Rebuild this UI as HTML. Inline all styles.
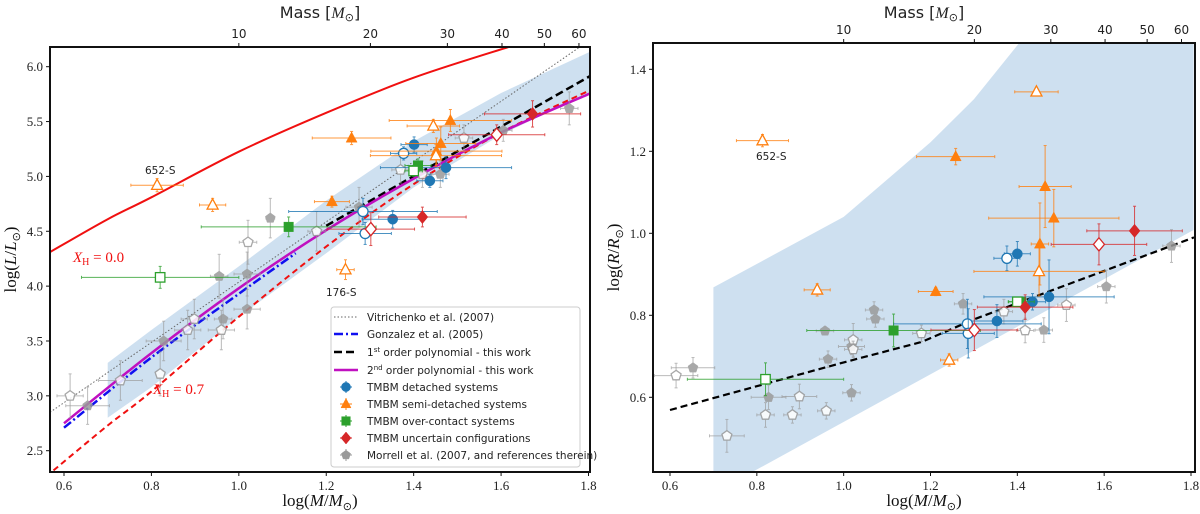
<!DOCTYPE html>
<html><head><meta charset="utf-8">
<style>
body{margin:0;background:#fff;}
svg{display:block;}
.tk{font-family:"Liberation Serif",serif;font-size:13px;fill:#222;}
.tt{font-family:"DejaVu Sans","Liberation Sans",sans-serif;font-size:12px;fill:#222;}
.lg{font-family:"DejaVu Sans","Liberation Sans",sans-serif;font-size:10.5px;fill:#222;}
.al{font-family:"Liberation Serif",serif;font-size:17px;fill:#111;}
</style></head>
<body>
<svg id="chart" width="1200" height="514" viewBox="0 0 1200 514" xmlns="http://www.w3.org/2000/svg"></svg>
<script>
// ---------- DATA (left panel: log L) ----------
const massTicks = [10, 20, 30, 40, 50, 60];
const xTicks = [0.6, 0.8, 1.0, 1.2, 1.4, 1.6, 1.8];
const lTicks = [2.5, 3.0, 3.5, 4.0, 4.5, 5.0, 5.5, 6.0];
const rTicks = [0.6, 0.8, 1.0, 1.2, 1.4];

// curves: [x, y]
const xh0Curve = [[0.568,4.31],[0.7,4.61],[0.8,4.81],[1.0,5.225],[1.2,5.58],[1.4,5.90],[1.617,6.18]];
const xh07Curve = [[0.576,2.32],[0.7,2.73],[0.8,3.04],[1.0,3.72],[1.2,4.36],[1.4,4.93],[1.6,5.40],[1.806,5.79]];
const poly2Curve = [[0.6,2.75],[0.8,3.39],[1.0,3.98],[1.2,4.51],[1.4,4.98],[1.6,5.40],[1.806,5.76]];
const poly1Line = [[1.2,4.55],[1.806,5.92]];
const gonzalezCurve = [[0.6,2.71],[0.8,3.35],[1.0,3.93],[1.13,4.30]];
const vitrichenkoLine = [[0.568,2.85],[1.78,6.18]];
const bandLower = [[0.7,2.80],[0.8,3.08],[1.0,3.72],[1.2,4.30],[1.4,4.90],[1.6,5.38],[1.806,5.77]];
const bandUpper = [[1.806,6.14],[1.6,5.76],[1.4,5.32],[1.2,4.78],[1.0,4.18],[0.8,3.60],[0.7,3.30]];

// points: [x, y, xerr, yerr]
const detL = [[1.401,5.29,0.03,0.07],[1.352,4.61,0.07,0.08],[1.437,4.96,0.03,0.06],[1.474,5.08,0.15,0.1]];
const detLo = [[1.377,5.21,0.03,0.06],[1.284,4.68,0.17,0.12],[1.289,4.48,0.06,0.1]];
const semiL = [[1.258,5.35,0.09,0.06],[1.213,4.77,0.04,0.05],[1.484,5.51,0.14,0.1],[1.462,5.30,0.08,0.15],[1.452,5.23,0.15,0.12]];
const semiLo = [[0.813,4.92,0.06,0.06],[0.940,4.74,0.03,0.06],[1.445,5.46,0.06,0.06],[1.451,5.19,0.15,0.1],[1.244,4.15,0.02,0.09]];
const ocL = [[1.114,4.54,0.2,0.09],[1.41,5.10,0.03,0.06]];
const ocLo = [[0.820,4.08,0.18,0.1],[1.40,5.05,0.02,0.05]];
const uncL = [[1.420,4.63,0.1,0.09],[1.672,5.57,0.11,0.12]];
const uncLo = [[1.302,4.52,0.1,0.15],[1.590,5.38,0.11,0.09]];
const morL = [[0.654,2.91,0.05,0.17],[0.828,3.50,0.04,0.18],[0.955,4.09,0.02,0.2],[0.964,3.70,0.02,0.18],[1.019,4.11,0.03,0.2],[1.019,3.79,0.03,0.18],[1.072,4.62,0.01,0.18],[1.275,4.72,0.03,0.18],[1.461,5.02,0.02,0.12],[1.605,5.42,0.02,0.1],[1.756,5.62,0.02,0.15]];
const morLo = [[0.614,3.00,0.03,0.2],[0.729,3.14,0.05,0.18],[0.820,3.20,0.01,0.2],[0.883,3.60,0.03,0.18],[0.898,3.70,0.03,0.18],[0.960,3.60,0.03,0.18],[1.021,4.40,0.02,0.2],[1.178,4.50,0.02,0.18],[1.370,5.06,0.02,0.12],[1.420,5.02,0.02,0.12],[1.515,5.35,0.02,0.12]];

// ---------- DATA (right panel: log R) ----------
const poly1R = [[0.6,0.569],[1.0,0.685],[1.18,0.735],[1.3,0.79],[1.807,0.99]];
const bandR = [[0.7,0.418],[0.7,0.868],[1.0,1.04],[1.2,1.222],[1.3,1.327],[1.405,1.465],[1.806,1.465],[1.806,1.008],[0.79,0.418]];
const detR = [[1.40,0.950,0.03,0.03],[1.353,0.786,0.06,0.04],[1.435,0.833,0.03,0.02],[1.473,0.845,0.15,0.09]];
const detRo = [[1.376,0.939,0.03,0.03],[1.285,0.779,0.17,0.06],[1.287,0.756,0.06,0.06]];
const orgR = [[1.258,1.187,0.09,0.02],[1.212,0.858,0.04,0.01],[1.464,1.114,0.06,0.1],[1.484,1.037,0.15,0.07],[1.452,0.974,0.02,0.1]];
const orgRo = [[0.813,1.226,0.06,0.015],[0.939,0.862,0.03,0.015],[1.444,1.345,0.05,0.01],[1.450,0.907,0.15,0.06],[1.243,0.691,0.02,0.015]];
const grnR = [[1.115,0.763,0.2,0.04],[1.409,0.833,0.03,0.01]];
const grnRo = [[0.820,0.644,0.18,0.04],[1.40,0.833,0.02,0.01]];
const redR = [[1.670,1.006,0.11,0.06],[1.418,0.820,0.11,0.03]];
const redRo = [[1.588,0.973,0.11,0.05],[1.301,0.764,0.1,0.05]];
const morR = [[0.653,0.672,0.05,0.025],[0.827,0.600,0.04,0.03],[0.957,0.762,0.02,0.01],[0.964,0.693,0.02,0.02],[1.018,0.724,0.03,0.02],[1.018,0.611,0.02,0.02],[1.070,0.813,0.02,0.02],[1.073,0.791,0.02,0.02],[1.275,0.828,0.02,0.025],[1.461,0.764,0.02,0.03],[1.605,0.870,0.02,0.04],[1.755,0.969,0.02,0.04]];
const morRo = [[0.614,0.653,0.05,0.03],[0.731,0.506,0.04,0.04],[0.820,0.557,0.02,0.03],[0.882,0.557,0.02,0.02],[0.898,0.602,0.04,0.03],[0.960,0.567,0.02,0.02],[1.022,0.740,0.02,0.04],[1.022,0.717,0.02,0.02],[1.179,0.756,0.02,0.02],[1.369,0.809,0.02,0.03],[1.418,0.763,0.02,0.03],[1.513,0.825,0.02,0.04]];

// ---------- RENDER ----------
const NS = 'http://www.w3.org/2000/svg';
const svg = document.getElementById('chart');
function mk(tag, attrs, parent){
  const e = document.createElementNS(NS, tag);
  for (const k in attrs) e.setAttribute(k, attrs[k]);
  (parent||svg).appendChild(e);
  return e;
}
const C = {blue:'#1f77b4', orange:'#ff7f0e', green:'#2ca02c', red:'#d62728', grey:'#9a9a9a'};

function panel(P){
  const g = mk('g', {});
  
  
  const sx = v => P.x0 + (v - P.xa) * (P.x1 - P.x0) / (P.xb - P.xa);
  const sy = v => P.y0 + (v - P.ya) * (P.y1 - P.y0) / (P.yb - P.ya);
  const clipId = 'clip-' + P.name;
  const cp = mk('clipPath', {id: clipId}, g);
  mk('rect', {x:P.L, y:P.T, width:P.R-P.L, height:P.B-P.T}, cp);
  const plot = mk('g', {'clip-path':'url(#'+clipId+')'}, g);
  P.sx = sx; P.sy = sy; P.plot = plot; P.g = g;
  return P;
}
function smoothD(pp){
  let d = 'M' + pp[0][0].toFixed(1) + ' ' + pp[0][1].toFixed(1);
  for (let i=0;i<pp.length-1;i++){
    const p0 = pp[Math.max(i-1,0)], p1 = pp[i], p2 = pp[i+1], p3 = pp[Math.min(i+2,pp.length-1)];
    const c1 = [p1[0]+(p2[0]-p0[0])/6, p1[1]+(p2[1]-p0[1])/6];
    const c2 = [p2[0]-(p3[0]-p1[0])/6, p2[1]-(p3[1]-p1[1])/6];
    d += ` C${c1[0].toFixed(1)} ${c1[1].toFixed(1)} ${c2[0].toFixed(1)} ${c2[1].toFixed(1)} ${p2[0].toFixed(1)} ${p2[1].toFixed(1)}`;
  }
  return d;
}
function path(P, pts, style, name, smooth){
  const pp = pts.map(p => [P.sx(p[0]), P.sy(p[1])]);
  const d = smooth ? smoothD(pp) : pp.map((p,i)=>(i?'L':'M')+p[0].toFixed(1)+' '+p[1].toFixed(1)).join(' ');
  const e = mk('path', Object.assign({d:d, fill:'none'}, style), P.plot);
  
  
  return e;
}
function marker(parent, shape, cx, cy, color, open, s){
  s = s || 1.1;
  const fill = open ? '#fff' : color;
  const st = {fill: fill, stroke: color, 'stroke-width': open ? 1.3 : 0.5};
  let e;
  if (shape === 'o') e = mk('circle', Object.assign({cx:cx, cy:cy, r:4.6*s}, st), parent);
  else if (shape === '^') e = mk('polygon', Object.assign({points:`${cx},${cy-5.5*s} ${cx+5*s},${cy+3.8*s} ${cx-5*s},${cy+3.8*s}`}, st), parent);
  else if (shape === 's') e = mk('rect', Object.assign({x:cx-4.3*s, y:cy-4.3*s, width:8.6*s, height:8.6*s}, st), parent);
  else if (shape === 'D') e = mk('polygon', Object.assign({points:`${cx},${cy-6*s} ${cx+5*s},${cy} ${cx},${cy+6*s} ${cx-5*s},${cy}`}, st), parent);
  else {
    let p = [];
    for (let k=0;k<5;k++){ const a = -Math.PI/2 + k*2*Math.PI/5; p.push((cx+4.8*s*Math.cos(a)).toFixed(1)+','+(cy+4.8*s*Math.sin(a)).toFixed(1)); }
    e = mk('polygon', Object.assign({points:p.join(' ')}, st), parent);
  }
  return e;
}
function points(P, pts, shape, color, open, name, alpha){
  const grp = mk('g', {opacity: alpha||1}, P.plot);
  
  
  pts.forEach(p => {
    const cx = P.sx(p[0]), cy = P.sy(p[1]);
    const xl = P.sx(p[0]-p[2]), xr = P.sx(p[0]+p[2]);
    const yt = P.sy(p[1]+p[3]), yb = P.sy(p[1]-p[3]);
    const eb = mk('g', {stroke:color, 'stroke-width':1, opacity:0.8}, grp);
    mk('line', {x1:xl, y1:cy, x2:xr, y2:cy}, eb);
    mk('line', {x1:cx, y1:yt, x2:cx, y2:yb}, eb);
    mk('line', {x1:xl, y1:cy-1.5, x2:xl, y2:cy+1.5}, eb);
    mk('line', {x1:xr, y1:cy-1.5, x2:xr, y2:cy+1.5}, eb);
    mk('line', {x1:cx-1.5, y1:yt, x2:cx+1.5, y2:yt}, eb);
    mk('line', {x1:cx-1.5, y1:yb, x2:cx+1.5, y2:yb}, eb);
    const m = marker(grp, shape, cx, cy, color, open);
    
    
  });
}
function axes(P, yTicks, yLabelHtml, yDec){
  const g = P.g;
  const f = mk('rect', {x:P.L, y:P.T, width:P.R-P.L, height:P.B-P.T, fill:'none', stroke:'#111', 'stroke-width':2}, g);
  
  
  xTicks.forEach(v => {
    const x = P.sx(v);
    mk('line', {x1:x, y1:P.B, x2:x, y2:P.B+4, stroke:'#111'}, g);
    const t = mk('text', {x:x, y:P.B+18, 'text-anchor':'middle', class:'tk'}, g);
    t.textContent = v.toFixed(1);
    
    
  });
  yTicks.forEach(v => {
    const y = P.sy(v);
    mk('line', {x1:P.L-4, y1:y, x2:P.L, y2:y, stroke:'#111'}, g);
    const t = mk('text', {x:P.L-7, y:y+4.5, 'text-anchor':'end', class:'tk'}, g);
    t.textContent = v.toFixed(yDec);
    
    
  });
  massTicks.forEach(m => {
    const x = P.sx(Math.log10(m));
    mk('line', {x1:x, y1:P.T-4, x2:x, y2:P.T, stroke:'#111'}, g);
    const t = mk('text', {x:x, y:P.T-9, 'text-anchor':'middle', class:'tt'}, g);
    t.textContent = m;
    
    
  });
  const mc = (P.L+P.R)/2;
  const mt = mk('text', {x:mc, y:18, 'text-anchor':'middle', class:'tt', style:'font-size:16px'}, g);
  mt.innerHTML = 'Mass [<tspan font-family="Liberation Serif" font-style="italic">M</tspan><tspan style="font-size:11px" dy="3">⊙</tspan><tspan dy="-3">]</tspan>';
  
  
  const xt = mk('text', {x:mc, y:506, 'text-anchor':'middle', class:'al'}, g);
  xt.innerHTML = 'log(<tspan font-style="italic">M</tspan>/<tspan font-style="italic">M</tspan><tspan style="font-size:11px" dy="4">⊙</tspan><tspan dy="-4">)</tspan>';
  
  
  const yc = (P.T+P.B)/2;
  const yt = mk('text', {x:0, y:0, 'text-anchor':'middle', class:'al', transform:`translate(${P.L-34},${yc}) rotate(-90)`}, g);
  yt.innerHTML = yLabelHtml;
  
  
}
function label(txt, x, y, cls, style, name){
  const t = mk('text', {x:x, y:y, class:cls, style:style||''});
  t.innerHTML = txt;
  
  
}

// LEFT
const PL = panel({name:'luminosity-panel', L:50, R:590, T:47, B:472, x0:64, x1:588.5, xa:0.6, xb:1.8, y0:66.7, y1:450.7, ya:6.0, yb:2.5});
path(PL, bandLower.concat(bandUpper), {fill:'#c6dbed', stroke:'none', opacity:0.85}, 'uncertainty-band');
path(PL, vitrichenkoLine, {stroke:'#666', 'stroke-width':1, 'stroke-dasharray':'1.5 2'}, 'vitrichenko-line');
path(PL, xh0Curve, {stroke:'#f01010', 'stroke-width':2}, 'xh-0-curve', true);
path(PL, xh07Curve, {stroke:'#f01010', 'stroke-width':2, 'stroke-dasharray':'6 4'}, 'xh-07-curve', true);
path(PL, gonzalezCurve, {stroke:'#1010f0', 'stroke-width':2.5, 'stroke-dasharray':'9 3 2 3'}, 'gonzalez-curve', true);
path(PL, poly1Line, {stroke:'#000', 'stroke-width':2.5, 'stroke-dasharray':'8 4'}, 'first-order-fit');
path(PL, poly2Curve, {stroke:'#c010c0', 'stroke-width':2.5}, 'second-order-fit', true);
points(PL, morL, 'p', C.grey, false, 'morrell-filled', 0.85);
points(PL, morLo, 'p', C.grey, true, 'morrell-open', 0.85);
points(PL, detL, 'o', C.blue, false, 'detached-filled');
points(PL, detLo, 'o', C.blue, true, 'detached-open');
points(PL, semiL, '^', C.orange, false, 'semi-detached-filled');
points(PL, semiLo, '^', C.orange, true, 'semi-detached-open');
points(PL, ocL, 's', C.green, false, 'over-contact-filled');
points(PL, ocLo, 's', C.green, true, 'over-contact-open');
points(PL, uncL, 'D', C.red, false, 'uncertain-filled');
points(PL, uncLo, 'D', C.red, true, 'uncertain-open');
axes(PL, lTicks, 'log(<tspan font-style="italic">L</tspan>/<tspan font-style="italic">L</tspan><tspan style="font-size:11px" dy="4">⊙</tspan><tspan dy="-4">)</tspan>', 1);
label('652-S', 145, 174, 'lg', '', 'annotation-652s');
label('176-S', 326, 296, 'lg', '', 'annotation-176s');
label('<tspan font-style="italic">X</tspan><tspan style="font-size:10px" dy="3">H</tspan><tspan dy="-3"> = 0.0</tspan>', 73, 262, 'al', 'fill:#f01010;font-size:15px', 'xh-0-label');
label('<tspan font-style="italic">X</tspan><tspan style="font-size:10px" dy="3">H</tspan><tspan dy="-3"> = 0.7</tspan>', 153, 394, 'al', 'fill:#f01010;font-size:15px', 'xh-07-label');

// legend
const lg = mk('g', {});


mk('rect', {x:331, y:307, width:249, height:160, rx:3, fill:'#fff', 'fill-opacity':0.85, stroke:'#ccc'}, lg);
const legY = [317, 334, 352, 370, 387, 404, 421, 438, 455];
const legTxt = ['Vitrichenko et al. (2007)', 'Gonzalez et al. (2005)', '1<tspan style="font-size:7px" dy="-4">st</tspan><tspan dy="4"> order polynomial - this work</tspan>', '2<tspan style="font-size:7px" dy="-4">nd</tspan><tspan dy="4"> order polynomial - this work</tspan>', 'TMBM detached systems', 'TMBM semi-detached systems', 'TMBM over-contact systems', 'TMBM uncertain configurations', 'Morrell et al. (2007, and references therein)'];
const legLine = [{stroke:'#666','stroke-width':1,'stroke-dasharray':'1.5 2'},{stroke:'#1010f0','stroke-width':2.5,'stroke-dasharray':'9 3 2 3'},{stroke:'#000','stroke-width':2.5,'stroke-dasharray':'8 4'},{stroke:'#c010c0','stroke-width':2.5}];
const legMk = [['o',C.blue],['^',C.orange],['s',C.green],['D',C.red],['p',C.grey]];
legY.forEach((y,i) => {
  const e = mk('g', {}, lg);
  
  
  if (i < 4) mk('line', Object.assign({x1:334, y1:y, x2:358, y2:y}, legLine[i]), e);
  else {
    const [sh, col] = legMk[i-4];
    mk('line', {x1:340, y1:y, x2:352, y2:y, stroke:col}, e);
    mk('line', {x1:346, y1:y-6, x2:346, y2:y+6, stroke:col}, e);
    marker(e, sh, 346, y, col, false, 1);
  }
  const t = mk('text', {x:367, y:y+4, class:'lg'}, e);
  t.innerHTML = legTxt[i];
});

// RIGHT
const PR = panel({name:'radius-panel', L:653, R:1195, T:43, B:472, x0:670, x1:1191, xa:0.6, xb:1.8, y0:69.3, y1:397.3, ya:1.4, yb:0.6});
path(PR, bandR.concat([bandR[0]]), {fill:'#c6dbed', stroke:'none', opacity:0.85}, 'uncertainty-band');
path(PR, poly1R, {stroke:'#000', 'stroke-width':2.2, 'stroke-dasharray':'7 4'}, 'first-order-fit');
points(PR, morR, 'p', C.grey, false, 'morrell-filled', 0.85);
points(PR, morRo, 'p', C.grey, true, 'morrell-open', 0.85);
points(PR, detR, 'o', C.blue, false, 'detached-filled');
points(PR, detRo, 'o', C.blue, true, 'detached-open');
points(PR, orgR, '^', C.orange, false, 'semi-detached-filled');
points(PR, orgRo, '^', C.orange, true, 'semi-detached-open');
points(PR, grnR, 's', C.green, false, 'over-contact-filled');
points(PR, grnRo, 's', C.green, true, 'over-contact-open');
points(PR, redR, 'D', C.red, false, 'uncertain-filled');
points(PR, redRo, 'D', C.red, true, 'uncertain-open');
axes(PR, rTicks, 'log(<tspan font-style="italic">R</tspan>/<tspan font-style="italic">R</tspan><tspan style="font-size:11px" dy="4">⊙</tspan><tspan dy="-4">)</tspan>', 1);
label('652-S', 756, 160, 'lg', '', 'annotation-652s-right');
</script>
</body></html>
